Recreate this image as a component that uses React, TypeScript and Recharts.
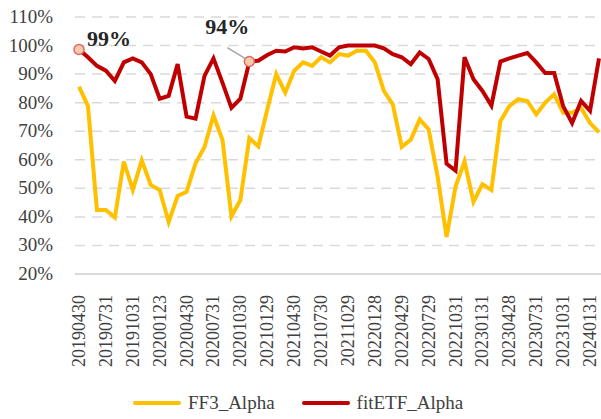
import { LineChart, Line, XAxis, YAxis, CartesianGrid, Legend, ReferenceDot } from 'recharts';

const dates = [
  '20190430', '20190531', '20190628', '20190731', '20190830', '20190930', '20191031', '20191129', '20191231',
  '20200123', '20200228', '20200331', '20200430', '20200529', '20200630', '20200731', '20200831', '20200930', '20201030', '20201130', '20201231',
  '20210129', '20210226', '20210331', '20210430', '20210531', '20210630', '20210730', '20210831', '20210930', '20211029', '20211130', '20211231',
  '20220128', '20220228', '20220331', '20220429', '20220531', '20220630', '20220729', '20220831', '20220930', '20221031', '20221130', '20221230',
  '20230131', '20230228', '20230331', '20230428', '20230531', '20230630', '20230731', '20230831', '20230928', '20231031', '20231130', '20231229',
  '20240131', '20240229',
];

const ff3Alpha = [
  85.6, 78.8, 42.4, 42.4, 39.8, 59.4, 49.4, 59.8, 51.2, 49.4, 38.2, 47.3, 48.8, 58.8, 64.5, 75.5, 67.0, 40.2, 45.9, 67.6,
  64.7, 77.6, 90.0, 83.5, 91.2, 94.1, 92.9, 95.9, 94.1, 97.0, 96.5, 98.2, 98.2, 94.1, 84.1, 79.4, 64.5, 67.0, 74.1, 70.6,
  54.1, 33.0, 50.6, 59.4, 45.3, 51.5, 49.4, 73.5, 78.8, 81.2, 80.6, 75.9, 80.0, 82.9, 76.5, 76.5, 78.2, 72.9, 69.6,
];

const fitEtfAlpha = [
  98.6, 95.9, 92.9, 91.2, 87.6, 94.1, 95.5, 94.1, 90.0, 81.4, 82.4, 93.5, 75.1, 74.4, 89.4, 95.5, 87.0, 78.2, 81.4, 94.4,
  94.7, 96.7, 98.2, 97.9, 99.4, 99.0, 99.4, 97.9, 96.5, 99.4, 100, 100, 100, 100, 99.0, 97.0, 95.9, 93.5, 97.6, 95.3,
  88.2, 58.6, 56.2, 95.9, 88.2, 84.1, 79.0, 94.4, 95.5, 96.5, 97.4, 94.1, 90.4, 90.4, 78.8, 72.9, 80.6, 77.1, 95.5,
];

const yTicks = [20, 30, 40, 50, 60, 70, 80, 90, 100, 110];

const FONT = "'Liberation Serif', 'DejaVu Serif', serif";
const YELLOW = '#FFC000';
const RED = '#C00000';

const data = dates.map((d, i) => ({ date: d, ff3: ff3Alpha[i], fit: fitEtfAlpha[i] }));

function DateTick({ x, y, payload }: any) {
  return (
    <g transform={`translate(${x},${y + 13})`}>
      <text x={0} y={0} dy={6} textAnchor="end" transform="rotate(-90)" fill="#404040" fontSize={18} style={{ fontFamily: FONT }}>
        {payload.value}
      </text>
    </g>
  );
}

function ValueTick({ x, y, payload }: any) {
  return (
    <text x={x} y={y} dy={6} textAnchor="end" fill="#404040" fontSize={19} style={{ fontFamily: FONT }}>
      {`${payload.value}%`}
    </text>
  );
}

function PeakLabel({ viewBox, text }: any) {
  const cx = viewBox.x + viewBox.width / 2;
  const cy = viewBox.y + viewBox.height / 2;
  return (
    <text x={cx + 8} y={cy - 4} fontSize={22} fontWeight="bold" fill="#262626" style={{ fontFamily: FONT }}>
      {text}
    </text>
  );
}

function LeaderLabel({ viewBox, text }: any) {
  const cx = viewBox.x + viewBox.width / 2;
  const cy = viewBox.y + viewBox.height / 2;
  return (
    <g>
      <line x1={cx - 22} y1={cy - 14} x2={cx - 4} y2={cy - 3} stroke="#a6a6a6" strokeWidth={1.5} />
      <text x={cx - 22} y={cy - 28} textAnchor="middle" fontSize={22} fontWeight="bold" fill="#262626" style={{ fontFamily: FONT }}>
        {text}
      </text>
    </g>
  );
}

function LegendBox() {
  const items = [
    { name: 'FF3_Alpha', color: YELLOW },
    { name: 'fitETF_Alpha', color: RED },
  ];
  return (
    <div style={{ display: 'flex', alignItems: 'center', fontFamily: FONT, fontSize: 19, color: '#404040' }}>
      {items.map((it) => (
        <div key={it.name} style={{ display: 'flex', alignItems: 'center', marginRight: 26 }}>
          <svg width={50} height={10} style={{ marginRight: 6 }}>
            <line x1={3} y1={5} x2={47} y2={5} stroke={it.color} strokeWidth={4} strokeLinecap="round" />
          </svg>
          <span>{it.name}</span>
        </div>
      ))}
    </div>
  );
}

export default function App() {
  return (
    <div style={{ position: 'fixed', left: 0, top: 0, width: 601, height: 419, background: '#fff' }}>
      <LineChart width={601} height={419} data={data} margin={{ top: 17, right: 0, bottom: 0, left: 0 }}>
        <CartesianGrid vertical={false} stroke="#d9d9d9" strokeWidth={1.5} strokeDasharray="10 7" />
        <XAxis
          dataKey="date"
          interval={2}
          height={145}
          padding={{ left: 4, right: 2 }}
          tickLine={false}
          axisLine={{ stroke: '#d9d9d9', strokeWidth: 2 }}
          tick={<DateTick />}
        />
        <YAxis
          domain={[20, 110]}
          ticks={yTicks}
          width={75}
          axisLine={false}
          tickLine={false}
          tickMargin={16}
          tick={<ValueTick />}
        />
        <Legend
          layout="horizontal"
          verticalAlign="middle"
          align="center"
          wrapperStyle={{ top: 392, left: 132, width: 'auto' }}
          content={<LegendBox />}
        />
        <Line type="linear" dataKey="ff3" name="FF3_Alpha" stroke={YELLOW} strokeWidth={4} dot={false} isAnimationActive={false} />
        <Line type="linear" dataKey="fit" name="fitETF_Alpha" stroke={RED} strokeWidth={4} dot={false} isAnimationActive={false} />
        <ReferenceDot
          x={dates[0]}
          y={fitEtfAlpha[0]}
          r={5}
          fill="#F8CBAD"
          stroke="#E06666"
          strokeWidth={1.5}
          label={<PeakLabel text="99%" />}
        />
        <ReferenceDot
          x={dates[19]}
          y={fitEtfAlpha[19]}
          r={5}
          fill="#F8CBAD"
          stroke="#E06666"
          strokeWidth={1.5}
          label={<LeaderLabel text="94%" />}
        />
      </LineChart>
    </div>
  );
}
